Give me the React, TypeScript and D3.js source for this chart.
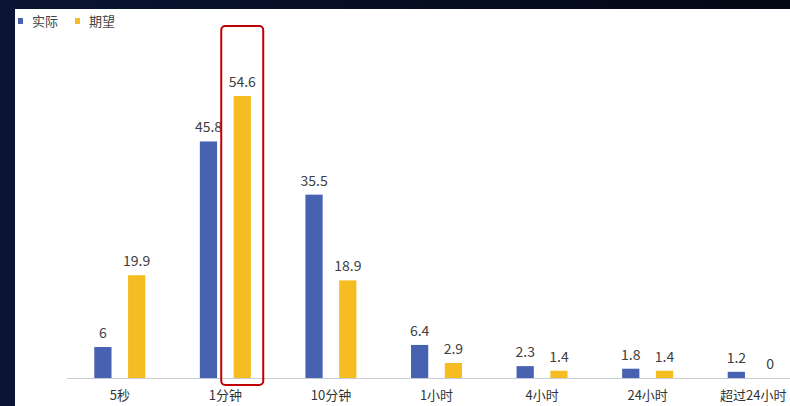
import React from "react";
import * as d3 from "d3";

const categories = ["5秒", "1分钟", "10分钟", "1小时", "4小时", "24小时", "超过24小时"];
const seriesNames = ["实际", "期望"];
const actual = [6, 45.8, 35.5, 6.4, 2.3, 1.8, 1.2];
const expected = [19.9, 54.6, 18.9, 2.9, 1.4, 1.4, 0];
const colors = ["#4762b1", "#f5bd22"];
const highlightCategory = "1分钟";

export default function App() {
  const W = 790;
  const H = 406;
  const baseline = 378;
  const x0 = d3
    .scaleBand<string>()
    .domain(categories)
    .range([67, 806])
    .paddingInner(0.517)
    .paddingOuter(0.2585);
  const x1 = d3
    .scaleBand<string>()
    .domain(seriesNames)
    .range([0, x0.bandwidth()])
    .paddingInner(0.49)
    .paddingOuter(0);
  const y = d3.scaleLinear().domain([0, 54.6]).range([baseline, 96]);
  const series = [actual, expected];
  const font = "'Noto Sans CJK SC', 'Noto Sans', sans-serif";

  const hx = (x0(highlightCategory) ?? 0) + (x1("期望") ?? 0) + x1.bandwidth() / 2;

  return (
    <svg
      width={W}
      height={H}
      style={{ position: "absolute", left: 0, top: 0, display: "block" }}
      fontFamily={font}
    >
      <defs>
        <linearGradient id="bg" x1="0" x2="1" y1="0" y2="0">
          <stop offset="0" stopColor="#0b1533" />
          <stop offset="1" stopColor="#020713" />
        </linearGradient>
      </defs>
      <rect x={0} y={0} width={W} height={H} fill="url(#bg)" />
      <rect x={15} y={9} width={W - 15} height={H - 9} fill="#ffffff" />

      {/* legend */}
      {seriesNames.map((s, i) => (
        <g key={s} transform={`translate(${18 + i * 57},0)`}>
          <rect x={0} y={18} width={5} height={6} fill={colors[i]} />
          <text x={14} y={26} fontSize={13} fill="#444">
            {s}
          </text>
        </g>
      ))}

      {/* axis line */}
      <line x1={67} x2={W} y1={baseline + 0.5} y2={baseline + 0.5} stroke="#c9cdd8" strokeWidth={1.2} />

      {/* bars */}
      {categories.map((c, ci) => (
        <g key={c} transform={`translate(${x0(c)},0)`}>
          {series.map((vals, si) => {
            const v = vals[ci];
            const bx = x1(seriesNames[si]) ?? 0;
            return (
              <g key={si}>
                <rect
                  x={bx}
                  y={y(v)}
                  width={x1.bandwidth()}
                  height={baseline - y(v)}
                  fill={colors[si]}
                />
                <text
                  x={bx + x1.bandwidth() / 2}
                  y={y(v) - 9}
                  textAnchor="middle"
                  fontSize={14}
                  fill="#404040"
                >
                  {String(v)}
                </text>
              </g>
            );
          })}
          <text
            x={x0.bandwidth() / 2}
            y={400}
            textAnchor="middle"
            fontSize={13}
            fill="#333"
          >
            {c}
          </text>
        </g>
      ))}

      {/* highlight box */}
      <rect
        x={hx - 21}
        y={26}
        width={42}
        height={359}
        rx={4}
        fill="none"
        stroke="#c00000"
        strokeWidth={2}
      />
    </svg>
  );
}
